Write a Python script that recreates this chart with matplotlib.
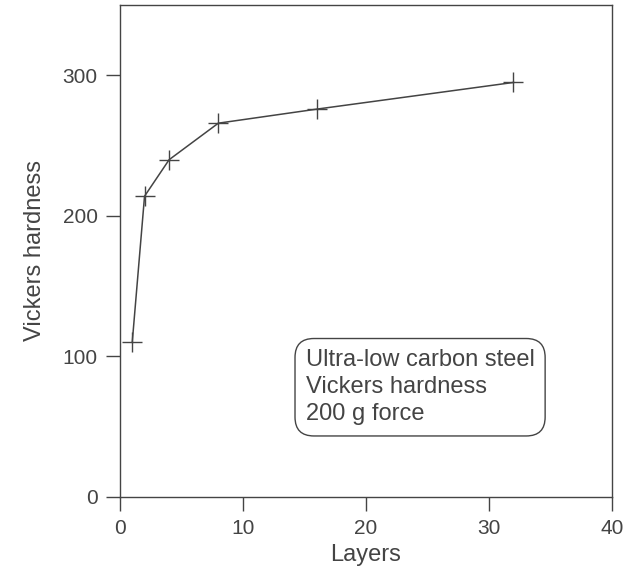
import matplotlib.pyplot as plt

plt.rcParams["font.family"] = ["Liberation Sans", "DejaVu Sans"]

layers = [1, 2, 4, 8, 16, 32]
hardness = [110, 214, 240, 266, 276, 295]
xticks = [0, 10, 20, 30, 40]
yticks = [0, 100, 200, 300]
note = "Ultra-low carbon steel\nVickers hardness\n200 g force"

ink = "#444444"

fig = plt.figure(figsize=(6.38, 5.77), dpi=100)
ax = fig.add_axes([0.188, 0.139, 0.771, 0.852])

ax.plot(layers, hardness, color=ink, linewidth=1.1, marker="+",
        markersize=14, markeredgewidth=1.0)

ax.set_xlim(0, 40)
ax.set_ylim(0, 350)
ax.set_xticks(xticks)
ax.set_yticks(yticks)
ax.tick_params(direction="out", length=10, width=1.0, color=ink,
               labelcolor=ink, labelsize=15, pad=6)
for s in ax.spines.values():
    s.set_color(ink)
    s.set_linewidth(1.0)

ax.set_xlabel("Layers", fontsize=17, color=ink, labelpad=4)
ax.set_ylabel("Vickers hardness", fontsize=17, color=ink, labelpad=12)

ax.text(15.1, 78, note, fontsize=17, color=ink, va="center", ha="left",
        linespacing=1.3,
        bbox=dict(boxstyle="round,pad=0.45,rounding_size=0.8",
                  facecolor="white", edgecolor=ink, linewidth=1.0))

fig.savefig("out.png", dpi=100)
